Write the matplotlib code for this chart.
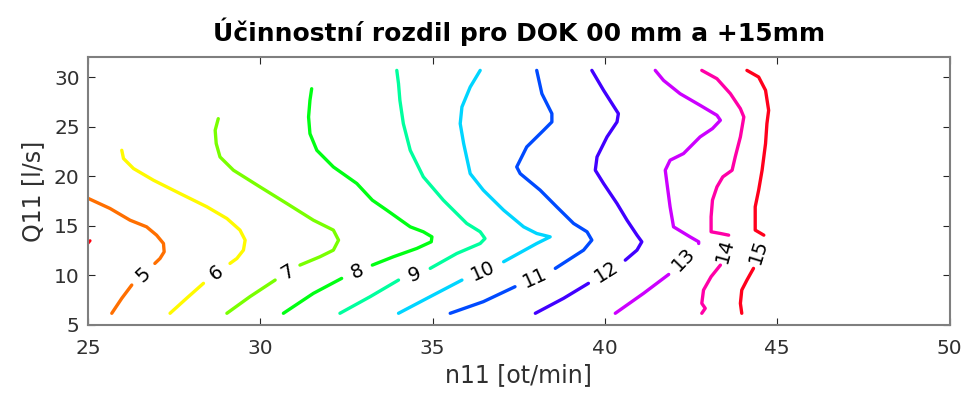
import numpy as np
import matplotlib.pyplot as plt
from matplotlib import colors

plt.rcParams['font.family'] = ['DejaVu Sans']

levels = [5, 6, 7, 8, 9, 10, 11, 12, 13, 14, 15]

# each contour level: upper branch (above label) and lower branch (below label), (n11, Q11) pairs
upper = {
    5: [(25.01, 17.76), (25.64, 16.75), (26.22, 15.57), (26.70, 14.90), (26.99, 14.06), (27.19, 13.22),
        (27.21, 12.38), (27.09, 11.71), (26.94, 11.21)],
    6: [(25.98, 22.62), (26.03, 21.79), (26.32, 20.78), (26.90, 19.60), (27.67, 18.26), (28.45, 16.92),
        (29.03, 15.74), (29.41, 14.57), (29.56, 13.56), (29.51, 12.55), (29.32, 11.71), (29.12, 11.21)],
    7: [(28.78, 25.81), (28.69, 24.64), (28.72, 23.30), (28.83, 21.95), (29.22, 20.61), (29.99, 18.93),
        (30.77, 17.25), (31.54, 15.57), (32.12, 14.57), (32.27, 13.56), (32.12, 12.55), (31.73, 11.88),
        (31.15, 11.04)],
    8: [(31.49, 28.83), (31.44, 27.66), (31.40, 25.98), (31.44, 24.30), (31.64, 22.62), (32.12, 20.94),
        (32.80, 19.27), (33.25, 17.59), (33.67, 16.58), (34.35, 14.90), (34.73, 14.40), (34.98, 13.89),
        (34.96, 13.39), (34.54, 12.72), (33.86, 11.88), (33.25, 11.04)],
    9: [(33.96, 30.68), (34.01, 29.34), (34.05, 27.66), (34.15, 25.31), (34.35, 22.62), (34.73, 19.94),
        (35.31, 17.59), (35.99, 15.24), (36.38, 14.40), (36.52, 13.72), (36.38, 13.22), (35.70, 12.21),
        (34.93, 10.71)],
    10: [(36.38, 30.68), (36.09, 29.00), (35.85, 26.99), (35.80, 25.31), (35.90, 23.30), (36.09, 20.27),
         (36.47, 18.60), (37.06, 16.58), (37.64, 14.90), (38.02, 14.23), (38.41, 13.89), (38.02, 13.22),
         (37.06, 11.38)],
    11: [(38.02, 30.68), (38.17, 28.33), (38.46, 26.32), (38.46, 25.48), (38.22, 24.64), (37.73, 22.96),
         (37.44, 20.94), (37.54, 20.27), (38.12, 18.60), (38.60, 16.92), (39.09, 15.24), (39.48, 14.40),
         (39.62, 13.56), (39.38, 12.55), (38.56, 10.71)],
    12: [(39.62, 30.68), (39.96, 28.67), (40.39, 26.32), (40.35, 25.48), (40.06, 23.97), (39.77, 21.95),
         (39.72, 20.61), (39.96, 19.27), (40.35, 17.25), (40.64, 15.57), (40.93, 14.06), (41.07, 13.39),
         (40.93, 12.55), (40.59, 11.54)],
    13: [(41.46, 30.68), (41.70, 29.67), (42.18, 28.33), (42.76, 27.16), (43.25, 26.15), (43.35, 25.65),
         (43.12, 24.81), (42.76, 23.97), (42.28, 22.29), (41.89, 21.62), (41.75, 20.61), (41.80, 19.27),
         (41.89, 16.92), (41.99, 14.90), (42.47, 13.89), (42.72, 13.39), (42.72, 13.22)],
    14: [(42.81, 30.68), (43.25, 29.84), (43.64, 28.33), (43.93, 26.82), (44.03, 25.98), (43.93, 23.97),
         (43.78, 21.95), (43.69, 20.61), (43.42, 19.94), (43.25, 18.93), (43.12, 17.59), (43.08, 15.91),
         (43.08, 14.40), (43.35, 14.23), (43.59, 14.06)],
    15: [(44.12, 30.68), (44.46, 30.01), (44.66, 28.67), (44.75, 26.65), (44.70, 25.31), (44.66, 23.30),
         (44.56, 20.61), (44.46, 18.60), (44.36, 16.92), (44.36, 14.57), (44.61, 14.06)],
}
lower = {
    5: [(26.27, 9.03), (25.98, 7.69), (25.69, 6.18)],
    6: [(28.35, 9.20), (27.86, 7.69), (27.38, 6.18)],
    7: [(30.43, 9.53), (29.70, 7.86), (29.03, 6.18)],
    8: [(32.36, 9.70), (31.54, 8.19), (30.67, 6.18)],
    9: [(34.01, 9.53), (33.19, 7.86), (32.31, 6.18)],
    10: [(35.85, 9.53), (34.93, 7.86), (34.01, 6.18)],
    11: [(37.39, 8.86), (36.47, 7.35), (35.51, 6.18)],
    12: [(39.52, 9.20), (38.80, 7.69), (37.98, 6.18)],
    13: [(41.85, 10.10), (41.12, 8.19), (40.30, 6.18)],
    14: [(43.35, 11.04), (43.08, 9.87), (42.86, 8.52), (42.81, 7.18), (42.91, 6.68), (42.81, 6.18)],
    15: [(44.31, 10.71), (44.12, 9.53), (43.97, 8.52), (43.93, 7.18), (43.97, 6.18)],
}
# tiny clipped piece of level 4 at left edge
level4 = [(25.0, 13.25), (25.06, 13.5)]


def level_color(lev):
    # matlab-like pure hue colormap
    h = ((lev - 4.2) / 11.0) % 1.0
    return colors.hsv_to_rgb([h, 1.0, 1.0])


fig = plt.figure(figsize=(9.66, 3.99), dpi=100)
ax = fig.add_axes([0.0911, 0.1855, 0.983 - 0.0911, 0.8564 - 0.1855])
ax.set_xlim(25, 50)
ax.set_ylim(5, 32)

l4 = np.array(level4)
ax.plot(l4[:, 0], l4[:, 1], color=colors.hsv_to_rgb([0.99, 1, 1]), lw=2.2, solid_capstyle='round')

for lev in levels:
    c = level_color(lev)
    up = np.array(upper[lev])
    lo = np.array(lower[lev])
    ax.plot(up[:, 0], up[:, 1], color=c, lw=2.4, solid_capstyle='round')
    ax.plot(lo[:, 0], lo[:, 1], color=c, lw=2.4, solid_capstyle='round')
    # label in the gap between branches
    a = ax.transData.transform(lo[0])
    b = ax.transData.transform(up[-1])
    ang = np.degrees(np.arctan2(b[1] - a[1], b[0] - a[0]))
    if ang > 90:
        ang -= 180
    if ang < -90:
        ang += 180
    mx, my = (lo[0] + up[-1]) / 2
    ax.text(mx, my, str(lev), rotation=ang, rotation_mode='anchor',
            ha='center', va='center', fontsize=14, color='black')

ax.set_xticks([25, 30, 35, 40, 45, 50])
ax.set_yticks([5, 10, 15, 20, 25, 30])
ax.tick_params(direction='in', top=True, right=True, labelsize=14.5, length=5,
               color='#262626', labelcolor='#303030')
ax.tick_params(axis='x', pad=10)
ax.tick_params(axis='y', pad=6)
for s in ax.spines.values():
    s.set_color('#7f7f7f')
    s.set_linewidth(1.5)

ax.set_xlabel('n11 [ot/min]', fontsize=17, color='#303030', labelpad=4)
ax.set_ylabel('Q11 [l/s]', fontsize=17, color='#303030', labelpad=6)
ax.set_title('Účinnostní rozdil pro DOK 00 mm a +15mm', fontsize=18, fontweight='bold', pad=12)

fig.savefig('out.png', dpi=100)
